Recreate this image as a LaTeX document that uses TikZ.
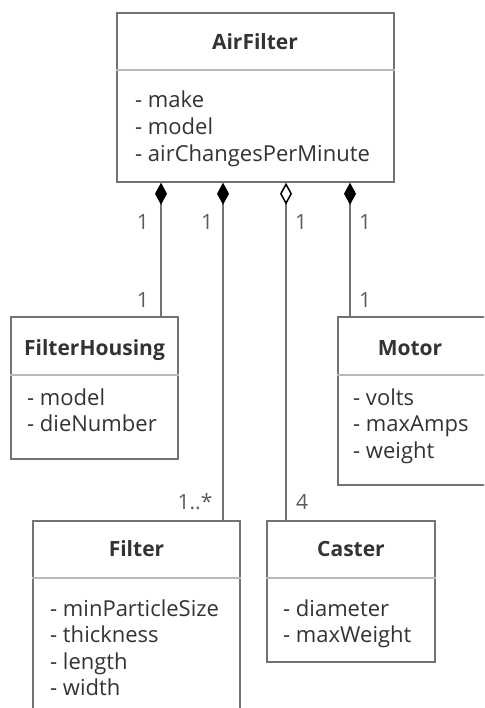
\documentclass[tikz,border=0pt]{standalone}
\usepackage{fontspec}
\setmainfont{Open Sans}
\usetikzlibrary{arrows.meta}
\definecolor{linegray}{gray}{0.45}
\definecolor{sepgray}{gray}{0.72}
\definecolor{textgray}{gray}{0.2}
\tikzstyle{cls}=[rectangle, draw=linegray, line width=1.5pt, inner sep=0pt]
\tikzstyle{sep}=[draw=sepgray, line width=2.5pt]
\tikzstyle{title}=[anchor=base, font=\bfseries\fontsize{21}{24}\selectfont, text=textgray, inner sep=0pt]
\tikzstyle{attr}=[anchor=base west, font=\fontsize{22}{26}\selectfont, text=textgray, inner sep=0pt]
\tikzstyle{mult}=[font=\fontsize{21}{24}\selectfont, text=textgray!80, inner sep=0pt]
\tikzstyle{comp}=[draw=linegray, line width=1.5pt, {Diamond[length=22pt, width=12pt, color=black]}-]
\tikzstyle{aggr}=[draw=linegray, line width=1.5pt, {Diamond[length=22pt, width=12pt, open, color=black]}-]

\begin{document}
\begin{tikzpicture}[x=1pt, y=-1pt]
    \clip (0,0) rectangle (484,708);
    \fill[white] (0,0) rectangle (484,708);
    % class boxes
    \node[cls, minimum width=277pt, minimum height=169pt] (airfilter) at (255.5,97.5) {};
    \node[cls, minimum width=167pt, minimum height=142pt] (housing) at (94.5,388) {};
    \node[cls, minimum width=152pt, minimum height=168pt] (motor) at (414,401) {};
    \node[cls, minimum width=207pt, minimum height=200pt] (filter) at (136.5,621) {};
    \node[cls, minimum width=168pt, minimum height=141pt] (caster) at (351,591.5) {};
    % separators
    \draw[sep] (airfilter.west |- 0,70) -- (airfilter.east |- 0,70);
    \draw[sep] (housing.west |- 0,375) -- (housing.east |- 0,375);
    \draw[sep] (motor.west |- 0,375) -- (motor.east |- 0,375);
    \draw[sep] (filter.west |- 0,578) -- (filter.east |- 0,578);
    \draw[sep] (caster.west |- 0,578) -- (caster.east |- 0,578);
    % titles
    \node[title] (airfilter-t) at (255,50) {AirFilter};
    \node[title] (housing-t) at (94.5,355) {FilterHousing};
    \node[title] (motor-t) at (410,355) {Motor};
    \node[title] (filter-t) at (136.5,556) {Filter};
    \node[title] (caster-t) at (351,556) {Caster};
    % attributes
    \node[attr] (airfilter-a1) at (135,108) {- make};
    \node[attr] (airfilter-a2) at (135,135) {- model};
    \node[attr] (airfilter-a3) at (135,162) {- airChangesPerMinute};
    \node[attr] (housing-a1) at (27,405) {- model};
    \node[attr] (housing-a2) at (27,431) {- dieNumber};
    \node[attr] (motor-a1) at (353,405) {- volts};
    \node[attr] (motor-a2) at (353,431) {- maxAmps};
    \node[attr] (motor-a3) at (353,458) {- weight};
    \node[attr] (filter-a1) at (50,616) {- minParticleSize};
    \node[attr] (filter-a2) at (50,642) {- thickness};
    \node[attr] (filter-a3) at (50,669) {- length};
    \node[attr] (filter-a4) at (50,695) {- width};
    \node[attr] (caster-a1) at (283,616) {- diameter};
    \node[attr] (caster-a2) at (283,642) {- maxWeight};
    % associations
    \draw[comp] (airfilter.south -| 161,0) -- (housing.north -| 161,0);
    \draw[comp] (airfilter.south -| 223,0) -- (filter.north -| 223,0);
    \draw[aggr] (airfilter.south -| 286,0) -- (caster.north -| 286,0);
    \draw[comp] (airfilter.south -| 350,0) -- (motor.north -| 350,0);
    % multiplicities
    \node[mult] (m1) at (143,222) {1};
    \node[mult] (m2) at (143,300) {1};
    \node[mult] (m3) at (207,222) {1};
    \node[mult] (m4) at (195,502) {1..*};
    \node[mult] (m5) at (301,222) {1};
    \node[mult] (m6) at (302,502) {4};
    \node[mult] (m7) at (365,222) {1};
    \node[mult] (m8) at (365,300) {1};
\end{tikzpicture}
\end{document}
